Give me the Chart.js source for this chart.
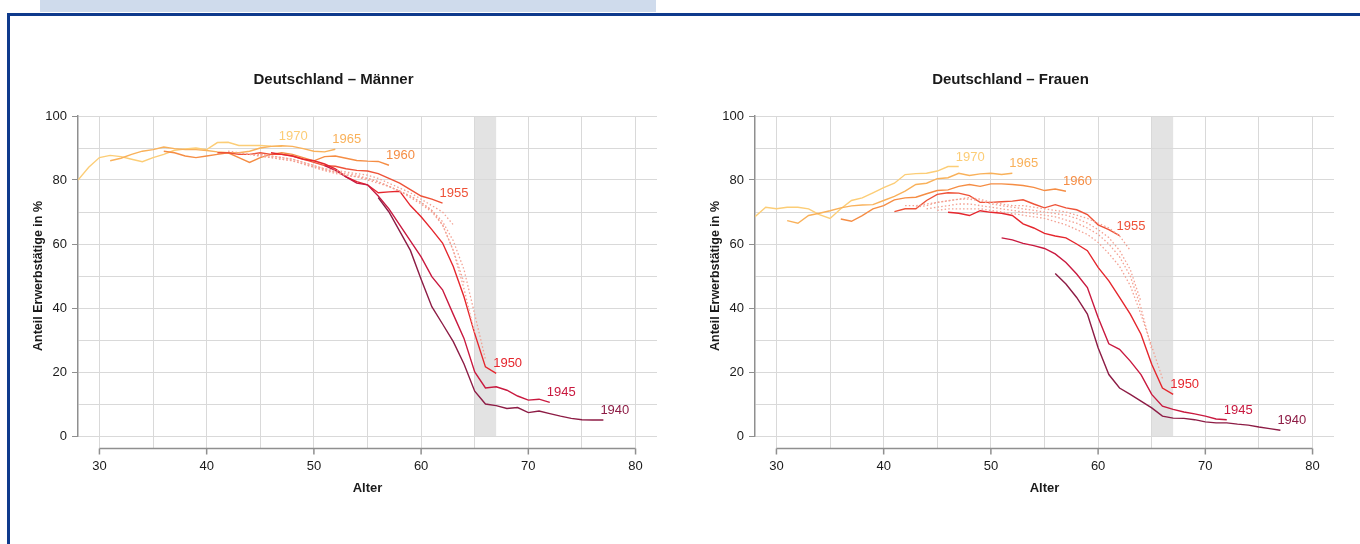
<!DOCTYPE html>
<html>
<head>
<meta charset="utf-8">
<script src="https://cdn.jsdelivr.net/npm/chart.js@4/dist/chart.umd.min.js"></script>
<style>
  html, body { margin: 0; padding: 0; background: #fff; width: 1360px; height: 544px; overflow: hidden; }
  .topband { position: absolute; left: 40px; top: 0; width: 616px; height: 12px; background: #cfdbec; }
  .frame { position: absolute; left: 7px; top: 13px; width: 1420px; height: 620px; border: 3px solid #0e3a8c; box-sizing: border-box; }
  .wrap { position: absolute; width: 715px; height: 440px; }
</style>
</head>
<body>
<div class="topband"></div>
<div class="frame"></div>
<div class="wrap" style="left:10px; top:60px"><canvas id="men" width="715" height="440"></canvas></div>
<div class="wrap" style="left:687px; top:60px"><canvas id="women" width="715" height="440"></canvas></div>
<script>
// cohorts (solid lines) and first age shown for each
const cohortLabels = ['1940', '1945', '1950', '1955', '1960', '1965', '1970'];
const cohortStart = [56, 51, 46, 41, 36, 31, 28];
const cohortColors = ['#8d1c45', '#c9193f', '#e5262d', '#ee5238', '#f58d44', '#f9b15a', '#fccd76'];

// in-between cohorts (dotted)
const dotLabels = ['1951', '1952', '1953', '1954'];
const dotStart = [45, 44, 43, 42];
const dotColor = '#f3a092';

const retireBand = [65, 67];

// Männer, share employed in %
const men1940 = [74.5, 70, 64, 58, 49, 40.4, 35, 29.5, 22.5, 14, 10, 9.5, 8.6, 8.9, 7.3, 7.8, 7, 6.2, 5.5, 5.1, 5, 5];
const men1945 = [84.5, 83, 81, 79, 78.5, 75, 71, 66, 61, 56, 49.8, 45.7, 38, 30.5, 20, 15, 15.4, 14.3, 12.5, 11.2, 11.5, 10.5];
const men1950 = [88.5, 88, 87.5, 86.5, 86, 85, 83.5, 81, 79.5, 78.5, 76, 76.3, 76.5, 72, 68.5, 64.5, 60.3, 53, 43.5, 32, 21.6, 19.6];
const men1955 = [88.5, 88.5, 88, 88, 88.5, 88, 88, 87.5, 86.5, 85.5, 84.5, 84.3, 83.5, 83, 82.8, 82, 80.5, 79, 77, 75, 74, 72.8];
const men1960 = [89, 88.5, 87.5, 87, 87.5, 88, 88.5, 87, 85.5, 87, 88, 88.5, 88, 87, 86, 87.3, 87.5, 86.8, 86.1, 85.9, 85.8, 84.6];
const men1965 = [86, 86.8, 88, 89, 89.5, 90.3, 89.8, 89.5, 89.5, 89.2, 88.8, 88.5, 88.5, 89, 90, 90.5, 90.7, 90.5, 89.8, 89, 88.8, 89.6];
const men1970 = [80, 84, 87, 87.7, 87.3, 86.5, 85.7, 87, 88, 89.3, 89.7, 90, 89.5, 91.7, 91.8, 90.8, 90.8, 90.8, 90.6, 90.5];
const menDot1951 = [88, 87.5, 87, 86.5, 85.5, 84.5, 83.5, 82.5, 81.5, 81, 80, 79, 78, 76.5, 75, 73, 70.5, 67, 61, 52, 38, 24];
const menDot1952 = [88, 87.5, 87, 86.5, 86, 85, 84, 83, 82, 81.5, 81, 80.5, 79.5, 78, 76.5, 75, 73, 70.5, 66, 58, 46, 32];
const menDot1953 = [88.5, 88, 87.5, 87, 86.5, 86, 85, 84, 83, 82.5, 82, 81.5, 80.5, 79.5, 78, 76.5, 74.5, 72.5, 70, 66, 58, 48];
const menDot1954 = [89, 88.5, 88, 88, 87.5, 87, 86.5, 85.5, 84.5, 83.5, 83, 82.5, 82, 81.5, 80.5, 79, 77.5, 76, 74, 72, 70, 66];

// Frauen
const women1940 = [50.8, 47.5, 43.3, 38.1, 27.6, 19.2, 15, 13, 10.9, 8.8, 6.2, 5.6, 5.5, 5.1, 4.4, 4.1, 4.1, 3.7, 3.4, 2.8, 2.3, 1.8];
const women1945 = [61.9, 61.3, 60.2, 59.5, 58.6, 56.9, 54.2, 50.6, 46.4, 37, 28.8, 27.1, 23.4, 19.2, 13, 9.3, 8.3, 7.5, 6.9, 6.2, 5.3, 5.1];
const women1950 = [69.9, 69.6, 68.9, 70.4, 69.9, 69.6, 68.9, 66.3, 65, 63.3, 62.5, 61.9, 60, 57.9, 52.7, 48.5, 43.3, 38.1, 31.8, 22.4, 15, 13];
const women1955 = [70.1, 71, 71, 73.6, 75.5, 76, 75.9, 75.1, 73, 73, 73.2, 73.4, 73.8, 72.5, 71.3, 72.3, 71.3, 70.7, 69.2, 66, 64.5, 62.6];
const women1960 = [67.8, 67.1, 68.9, 71, 72, 73.8, 74.4, 74.6, 75.7, 76.7, 76.9, 78, 78.6, 78, 78.8, 78.8, 78.6, 78.3, 77.7, 76.7, 77.2, 76.5];
const women1965 = [67.3, 66.5, 68.9, 69.6, 70.4, 71.3, 71.9, 72.2, 72.3, 73.6, 74.9, 76.5, 78.6, 79, 80.4, 80.7, 82.1, 81.4, 81.9, 82.1, 81.7, 82.1];
const women1970 = [68.5, 71.5, 71, 71.5, 71.5, 71, 69.2, 68, 71, 73.6, 74.4, 76, 77.6, 79, 81.7, 82, 82.1, 82.8, 84.2, 84.2];
const womenDot1951 = [70.5, 71, 71, 71, 71, 70.5, 70, 69.5, 69, 68.5, 68, 67, 66, 64.5, 63, 60.5, 57, 53, 47, 38, 28, 18];
const womenDot1952 = [71, 71.5, 72, 72.5, 72.5, 72, 71.5, 71, 70.5, 70, 69.5, 69, 68.5, 67.5, 66.5, 65, 63, 60, 56, 50, 40, 27];
const womenDot1953 = [71.5, 72, 73, 73.5, 74, 74, 73.5, 72.5, 72, 71.5, 71, 70.5, 70, 69.5, 69, 68, 66.5, 64.5, 62, 58, 52, 42];
const womenDot1954 = [72, 72, 72.5, 73, 73.5, 74, 74.5, 74, 73, 72.5, 72, 72, 71.5, 71, 70.5, 70, 69, 68, 66.5, 65, 62.5, 58];

const FONT = '"Liberation Sans", Arial, Helvetica, sans-serif';
const GRID = '#d9d9d9';
const AXIS = '#8f8f8f';

function points(start, values) {
  return values.map((v, i) => ({ x: start + i, y: v }));
}

const chartDecor = {
  id: 'chartDecor',
  beforeDraw(chart) {
    const { ctx, chartArea, scales: { x } } = chart;
    const x1 = x.getPixelForValue(retireBand[0]);
    const x2 = x.getPixelForValue(retireBand[1]);
    ctx.save();
    ctx.fillStyle = '#e3e3e3';
    ctx.fillRect(x1, chartArea.top, x2 - x1, chartArea.bottom - chartArea.top);
    ctx.restore();
  },
  afterDatasetsDraw(chart) {
    const { ctx } = chart;
    ctx.save();
    ctx.font = '13px ' + FONT;
    ctx.textAlign = 'left';
    ctx.textBaseline = 'bottom';
    chart.data.datasets.forEach((ds, i) => {
      if (!ds.endLabel) return;
      const meta = chart.getDatasetMeta(i);
      const pt = meta.data[meta.data.length - 1];
      ctx.fillStyle = ds.borderColor;
      ctx.fillText(ds.endLabel, pt.x - 3, pt.y - 3);
    });
    ctx.restore();
  },
  afterDraw(chart) {
    const { ctx, chartArea, scales: { x } } = chart;
    const y = Math.round(chartArea.bottom + 12) + 0.5;
    const xa = x.getPixelForValue(30);
    const xb = x.getPixelForValue(80);
    ctx.save();
    ctx.strokeStyle = AXIS;
    ctx.lineWidth = 1.5;
    ctx.beginPath();
    ctx.moveTo(xa, y);
    ctx.lineTo(xb, y);
    for (let v = 30; v <= 80; v += 10) {
      const px = x.getPixelForValue(v);
      ctx.moveTo(px, y);
      ctx.lineTo(px, y + 6);
    }
    ctx.stroke();
    ctx.restore();
  }
};

function makeChart(id, title, solid, dotted) {
  const datasets = [];
  dotted.forEach((vals, i) => {
    datasets.push({
      label: dotLabels[i],
      data: points(dotStart[i], vals),
      borderColor: dotColor,
      borderWidth: 1.3,
      borderDash: [1.5, 2.2],
      pointRadius: 0,
      tension: 0,
    });
  });
  solid.forEach((vals, i) => {
    datasets.push({
      label: cohortLabels[i],
      endLabel: cohortLabels[i],
      data: points(cohortStart[i], vals),
      borderColor: cohortColors[i],
      borderWidth: 1.4,
      pointRadius: 0,
      tension: 0,
    });
  });

  return new Chart(document.getElementById(id), {
    type: 'line',
    data: { datasets },
    plugins: [chartDecor],
    options: {
      responsive: false,
      animation: false,
      events: [],
      layout: { padding: { left: 0, right: 68, top: 0, bottom: 0 } },
      plugins: {
        legend: { display: false },
        tooltip: { enabled: false },
        title: {
          display: true,
          text: title,
          color: '#1a1a1a',
          font: { family: FONT, size: 15, weight: 'bold' },
          padding: { top: 11, bottom: 27 },
        },
      },
      scales: {
        x: {
          type: 'linear',
          min: 28,
          max: 82,
          afterFit: (s) => { s.height = 64; },
          border: { display: false },
          grid: { color: GRID, lineWidth: 1, tickLength: 12, tickColor: GRID },
          ticks: {
            stepSize: 5,
            includeBounds: false,
            autoSkip: false,
            maxRotation: 0,
            padding: 11,
            color: '#1a1a1a',
            font: { family: FONT, size: 13 },
            callback: (v) => (v % 10 === 0 ? v : ''),
          },
          title: {
            display: true,
            text: 'Alter',
            color: '#1a1a1a',
            font: { family: FONT, size: 13, weight: 'bold' },
            padding: { top: 0, bottom: 4 },
          },
        },
        y: {
          min: 0,
          max: 100,
          afterFit: (s) => { s.width = 68; },
          border: { display: true, color: AXIS, width: 1.5 },
          grid: {
            color: GRID,
            lineWidth: 1,
            tickLength: 6,
            tickColor: (c) => (c.tick && c.tick.value % 20 === 0 ? AXIS : 'rgba(0,0,0,0)'),
          },
          ticks: {
            stepSize: 10,
            padding: 5,
            color: '#1a1a1a',
            font: { family: FONT, size: 13 },
            callback: (v) => (v % 20 === 0 ? v : ''),
          },
          title: {
            display: true,
            text: 'Anteil Erwerbstätige in %',
            color: '#1a1a1a',
            font: { family: FONT, size: 12.5, weight: 'bold' },
            padding: { top: 21, bottom: 0 },
          },
        },
      },
    },
  });
}

makeChart('men', 'Deutschland – Männer',
  [men1940, men1945, men1950, men1955, men1960, men1965, men1970],
  [menDot1951, menDot1952, menDot1953, menDot1954]);

makeChart('women', 'Deutschland – Frauen',
  [women1940, women1945, women1950, women1955, women1960, women1965, women1970],
  [womenDot1951, womenDot1952, womenDot1953, womenDot1954]);
</script>
</body>
</html>
